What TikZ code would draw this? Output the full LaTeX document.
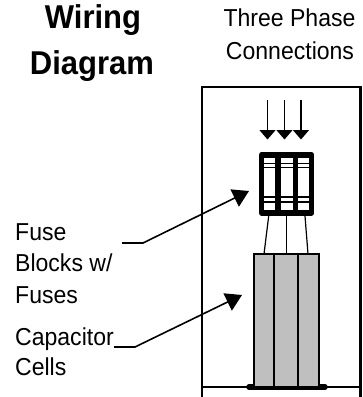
\documentclass[tikz,border=0pt]{standalone}
\usepackage{fontspec}
\setmainfont[FakeStretch=0.94]{Liberation Sans}
\usetikzlibrary{arrows.meta}
\tikzset{
  lbl/.style={anchor=base west,inner sep=0pt,font=\fontsize{24.5}{27}\selectfont},
  phase/.style={anchor=base,inner sep=0pt,font=\fontsize{24.5}{27}\selectfont},
  ttl/.style={anchor=base,inner sep=0pt,font=\bfseries\fontsize{33}{36}\selectfont},
  leader/.style={line width=1.6,-{Triangle[length=16,width=19]}},
  feed/.style={line width=1.4,-{Triangle[length=9.5,width=16]}},
  wire/.style={line width=1.2},
  cell/.style={draw=black,line width=1.4,fill=black!25},
  thinbar/.style={line width=1.4}
}
\begin{document}
\begin{tikzpicture}[x=1pt,y=-1pt]
\useasboundingbox (0,0) rectangle (363,397);
% cabinet
\draw[line width=2.6] (202,397) -- (202,87) -- (360.5,87) -- (360.5,397);
\draw[line width=1.6] (202,387) -- (360.5,387);
% titles
\node[ttl] (t1) at (93,28) {Wiring};
\node[ttl] (t2) at (92,74) {Diagram};
\node[phase] (p1) at (289.5,26.7) {Three Phase};
\node[phase] (p2) at (290,59.3) {Connections};
% labels
\node[lbl] (l1) at (15,240.7) {Fuse};
\node[lbl] (l2) at (15,271.7) {Blocks w/};
\node[lbl] (l3) at (15,303) {Fuses};
\node[lbl] (l4) at (15,345) {Capacitor};
\node[lbl] (l5) at (15,375.7) {Cells};
% cells
\draw[line width=5.5,line cap=round] (249,387) -- (325,387);
\draw[cell] (254,254) rectangle (274,387);
\draw[cell] (274,254) rectangle (298,387);
\draw[cell] (298,254) rectangle (319,387);
% wires
\coordinate (w1a) at (268.7,216); \coordinate (w1b) at (264,254);
\coordinate (w2a) at (286.5,216); \coordinate (w2b) at (286.5,254);
\coordinate (w3a) at (305,216); \coordinate (w3b) at (308,254);
\draw[wire] (w1a) -- (w1b);
\draw[wire] (w2a) -- (w2b);
\draw[wire] (w3a) -- (w3b);
% fuse block
\draw[thinbar] (262,163.3) -- (311,163.3) (262,167.7) -- (311,167.7)
               (262,197) -- (311,197) (262,202) -- (311,202);
\draw[line width=5.5,line join=round] (261.7,154.8) rectangle (311.7,213);
\draw[line width=6] (278,155) -- (278,213);
\draw[line width=5.5] (295.3,155) -- (295.3,213);
% feed arrows
\coordinate (f1a) at (267.5,100); \coordinate (f1b) at (267.5,139.5);
\coordinate (f2a) at (284.5,100); \coordinate (f2b) at (284.5,139.5);
\coordinate (f3a) at (301,100); \coordinate (f3b) at (301,139.5);
\draw[feed] (f1a) -- (f1b);
\draw[feed] (f2a) -- (f2b);
\draw[feed] (f3a) -- (f3b);
% leaders
\coordinate (a1) at (122,243); \coordinate (a2) at (143,243); \coordinate (a3) at (249,191);
\coordinate (b1) at (114,347); \coordinate (b2) at (135,347); \coordinate (b3) at (242,295);
\draw[leader] (a1) -- (a2) -- (a3);
\draw[leader] (b1) -- (b2) -- (b3);
\end{tikzpicture}
\end{document}
